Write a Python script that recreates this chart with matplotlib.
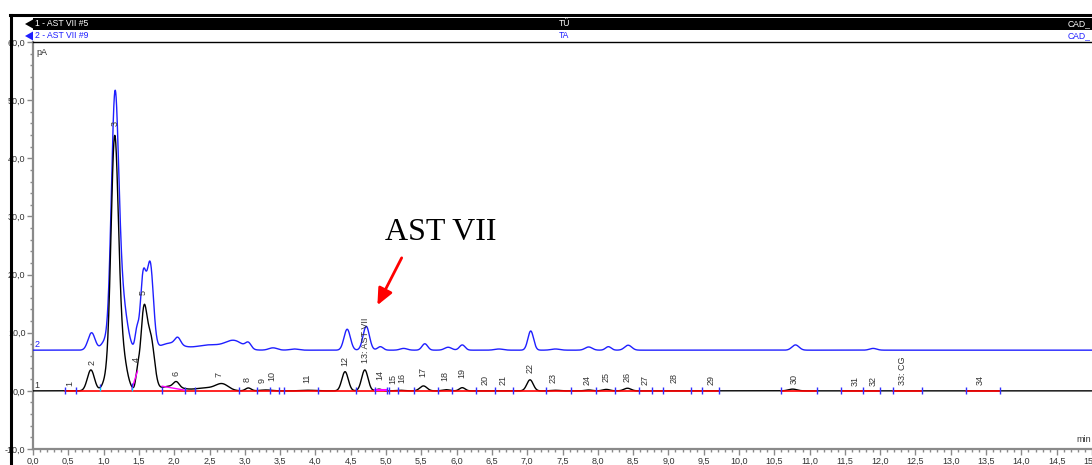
import numpy as np
import matplotlib
matplotlib.use("Agg")
import matplotlib.pyplot as plt
from matplotlib.patches import Rectangle, Polygon
from matplotlib.ticker import MultipleLocator, FuncFormatter

# ---------------- data ----------------
# peak tables: retention time (min), height (pA), sigma (min)
black_rt = [0.82, 1.03, 1.155, 1.25, 1.48, 1.57, 1.67, 1.95, 2.03, 2.45, 2.68, 3.05, 3.30, 3.90,
            4.42, 4.70, 4.90, 5.20, 5.53, 5.85, 6.08, 7.04, 7.40, 7.87, 8.12, 8.42, 10.76]
black_h = [3.6, 1.6, 41.0, 7.0, 2.6, 13.5, 8.5, 0.8, 0.9, 0.5, 1.1, 0.5, 0.15, 0.1,
           3.3, 3.6, 0.3, 0.1, 0.85, 0.2, 0.55, 1.9, 0.1, 0.15, 0.25, 0.45, 0.3]
black_w = [0.05, 0.05, 0.052, 0.07, 0.025, 0.045, 0.05, 0.15, 0.04, 0.15, 0.09, 0.04, 0.08, 0.1,
           0.045, 0.045, 0.04, 0.06, 0.05, 0.05, 0.04, 0.045, 0.06, 0.05, 0.05, 0.05, 0.06]

blue_offset = 7.0
blue_rt = [0.83, 1.01, 1.16, 1.26, 1.47, 1.56, 1.66, 1.95, 2.05, 2.50, 2.85, 3.05, 3.40, 3.70,
           4.45, 4.72, 4.92, 5.25, 5.55, 5.88, 6.08, 6.60, 7.05, 7.40, 7.87, 8.15, 8.43, 10.80, 11.90]
blue_h = [3.0, 1.3, 41.5, 8.5, 3.0, 12.5, 14.5, 1.2, 1.2, 0.9, 1.5, 1.0, 0.4, 0.2,
          3.6, 4.1, 0.6, 0.3, 1.1, 0.5, 0.9, 0.2, 3.3, 0.2, 0.55, 0.6, 0.85, 0.9, 0.3]
blue_w = [0.05, 0.05, 0.052, 0.07, 0.025, 0.04, 0.045, 0.15, 0.04, 0.2, 0.12, 0.04, 0.06, 0.06,
          0.045, 0.045, 0.04, 0.05, 0.04, 0.05, 0.04, 0.06, 0.04, 0.06, 0.05, 0.04, 0.05, 0.05, 0.05]

# peak labels
peak_labels = ["1", "2", "3", "4", "5", "6", "7", "8", "9", "10", "11", "12", "13: AST VII", "14",
               "15", "16", "17", "18", "19", "20", "21", "22", "23", "24", "25", "26", "27", "28",
               "29", "30", "31", "32", "33: CG", "34"]
peak_label_rt = [0.52, 0.83, 1.16, 1.46, 1.56, 2.02, 2.64, 3.04, 3.25, 3.38, 3.88, 4.42, 4.71, 4.91,
                 5.10, 5.23, 5.52, 5.84, 6.07, 6.41, 6.66, 7.04, 7.37, 7.85, 8.11, 8.42, 8.67, 9.08,
                 9.60, 10.78, 11.64, 11.90, 12.32, 13.42]
peak_label_level = [0.9, 4.5, 45.5, 5.0, 16.5, 2.6, 2.4, 1.5, 1.3, 1.7, 1.4, 4.3, 4.8, 1.9,
                    1.2, 1.4, 2.4, 1.7, 2.2, 1.0, 1.0, 3.1, 1.4, 1.0, 1.5, 1.5, 1.0, 1.4,
                    1.0, 1.2, 0.9, 0.9, 1.0, 1.0]

# integration delimiters (min)
delim_rt = [0.46, 0.61, 1.83, 2.16, 2.29, 2.92, 3.17, 3.35, 3.49, 3.55, 4.04, 4.57, 4.85, 5.02,
            5.04, 5.17, 5.39, 5.73, 5.94, 6.28, 6.55, 6.80, 7.27, 7.62, 7.98, 8.24, 8.59, 8.77,
            8.93, 9.32, 9.48, 9.72, 10.60, 11.10, 11.44, 11.75, 12.00, 12.18, 12.59, 13.21, 13.69]
drop_rt = [0.95, 1.40]
baseline_start = [0.46, 10.60, 11.44, 12.18, 13.21]
baseline_end = [9.72, 11.10, 12.00, 12.59, 13.69]
skim_x0 = [1.40, 1.83]
skim_y0 = [0.3, 0.8]
skim_x1 = [1.48, 2.16]
skim_y1 = [3.4, 0.1]

# ---------------- build traces ----------------
t = np.linspace(0, 15, 6001)


def trace(rt, h, w, off=0.0):
    y = np.full_like(t, off)
    for c, a, s in zip(rt, h, w):
        y += a * np.exp(-0.5 * ((t - c) / s) ** 2)
    return y


y_black = trace(black_rt, black_h, black_w)
y_blue = trace(blue_rt, blue_h, blue_w, blue_offset)

W, H = 1092, 465
fig = plt.figure(figsize=(W / 100, H / 100), dpi=100)
ax = fig.add_axes([33 / W, 1 - 449 / H, 1 - 33 / W, (449 - 42) / H])

BLUE = "#1f1fff"
GRAY = "#8a8a8a"
TXT = "#333333"
narrow = ["Liberation Sans Narrow", "Liberation Sans", "DejaVu Sans"]

ax.plot(t, y_blue, color=BLUE, lw=1.0, zorder=3)
ax.plot(t, y_black, color="black", lw=1.0, zorder=3)

# baselines
for a, b in zip(baseline_start, baseline_end):
    ax.plot([a, b], [0, 0], color="red", lw=1.2, zorder=4)
for x0, y0, x1, y1 in zip(skim_x0, skim_y0, skim_x1, skim_y1):
    ax.plot([x0, x1], [y0, y1], color="#ff00ff", lw=1.0, zorder=4)
ax.plot([4.85, 5.0], [0.1, 0.1], color="#ff00ff", lw=1.5, zorder=4)

# delimiters
ax.vlines(delim_rt, -0.6, 0.7, color="#3030ff", lw=1.0, zorder=5)
for d in drop_rt:
    yv = np.interp(d, t, y_black)
    ax.vlines(d, 0, yv, color="#00c8ff", lw=1.0, zorder=5)
    ax.vlines(d, yv, yv + 0.6, color="#3030ff", lw=1.0, zorder=5)

# peak labels
for lab, x, lv in zip(peak_labels, peak_label_rt, peak_label_level):
    ax.text(x, lv, lab, rotation=90, ha="center", va="bottom", fontsize=6.5,
            color=TXT, family=narrow, zorder=6)

# trace numbers
ax.text(0.02, 0.2, "1", fontsize=6.5, color=TXT, family=narrow, va="bottom", ha="left")
ax.text(0.02, 7.2, "2", fontsize=6.5, color=BLUE, family=narrow, va="bottom", ha="left")
ax.text(0.05, 59.0, "pA", fontsize=6.5, color=TXT, family=narrow, va="top", ha="left")
ax.text(14.99, -9.2, "min", fontsize=6.5, color=TXT, family=narrow, va="bottom", ha="right")

# AST VII annotation
ax.annotate("", xy=(4.86, 14.3), xytext=(5.24, 23.3),
            arrowprops=dict(arrowstyle="-|>,head_length=1.0,head_width=0.45", color="red", lw=2.0),
            zorder=7)
ax.text(5.77, 27.2, "AST VII", fontsize=23, family=["Liberation Serif", "DejaVu Serif"],
        ha="center", va="center", color="black")

ax.set_xlim(0, 15)
ax.set_ylim(-10, 60)
ax.xaxis.set_major_locator(MultipleLocator(0.5))
ax.xaxis.set_minor_locator(MultipleLocator(0.1))
ax.yaxis.set_major_locator(MultipleLocator(10))
ax.yaxis.set_minor_locator(MultipleLocator(2))
fmt = FuncFormatter(lambda v, p: f"{v:.1f}".replace(".", ","))
ax.xaxis.set_major_formatter(fmt)
ax.yaxis.set_major_formatter(fmt)
ax.tick_params(which="major", length=4, width=1, color=GRAY, labelsize=6.5, labelcolor=TXT, pad=1.5)
ax.tick_params(which="minor", length=2.5, width=1, color=GRAY)
for lab in ax.get_xticklabels() + ax.get_yticklabels():
    lab.set_family(narrow)
ax.spines["left"].set_color(GRAY)
ax.spines["left"].set_linewidth(1.6)
ax.spines["bottom"].set_color(GRAY)
ax.spines["bottom"].set_linewidth(1.6)
ax.spines["right"].set_visible(False)
ax.spines["top"].set_color("black")
ax.spines["top"].set_linewidth(1.0)


# ---------------- header ----------------
def fx(px):
    return px / W


def fy(py):
    return 1 - py / H


fig.add_artist(plt.Line2D([fx(10), fx(W)], [fy(15), fy(15)], color="black", lw=2.2))
fig.add_artist(plt.Line2D([fx(10.5), fx(10.5)], [fy(15), fy(H)], color="black", lw=2.2))
fig.add_artist(Rectangle((fx(33), fy(30)), 1 - fx(33), fy(18) - fy(30), color="black", lw=0))
fig.add_artist(Polygon([[fx(25), fy(24)], [fx(33), fy(19.5)], [fx(33), fy(28.5)]], closed=True,
                       color="black", lw=0))
fig.add_artist(Polygon([[fx(25), fy(36)], [fx(33), fy(31.5)], [fx(33), fy(40.5)]], closed=True,
                       color=BLUE, lw=0))
hdr = dict(fontsize=6.2, family=narrow, va="center")
fig.text(fx(35), fy(24), "1 - AST VII #5", color="white", **hdr)
fig.text(fx(559), fy(24), "TÜ", color="white", **hdr)
fig.text(fx(1090), fy(24), "CAD_", color="white", ha="right", **hdr)
fig.text(fx(35), fy(36), "2 - AST VII #9", color=BLUE, **hdr)
fig.text(fx(559), fy(36), "TA", color=BLUE, **hdr)
fig.text(fx(1090), fy(36), "CAD_", color=BLUE, ha="right", **hdr)

fig.savefig("out.png", dpi=100)
